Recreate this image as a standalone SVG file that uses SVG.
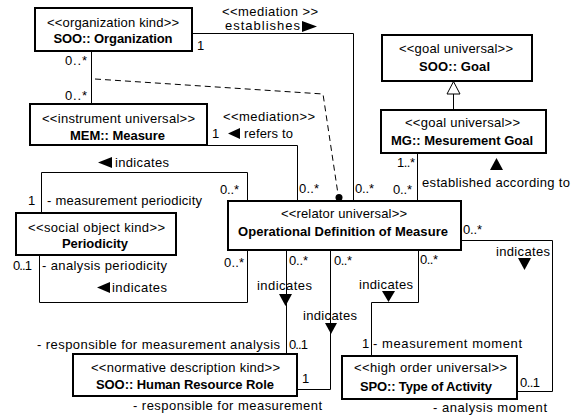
<svg xmlns="http://www.w3.org/2000/svg" width="577" height="416" viewBox="0 0 577 416">
<style>
text{font-family:"Liberation Sans",Arial,sans-serif;font-size:13px;fill:#000}
.st{text-anchor:middle}
.nm{text-anchor:middle;font-weight:bold}
.box{fill:#fff;stroke:#000;stroke-width:2}
.ln{fill:none;stroke:#000;stroke-width:1}
.dash{fill:none;stroke:#000;stroke-width:1;stroke-dasharray:6,4}
.tri{fill:#000;stroke:none}
</style>
<rect width="577" height="416" fill="#fff"/>
<g id="connectors">
<path class="ln" d="M193,33.5 H353.5 V201"/>
<path class="ln" d="M91.5,51 V104"/>
<path class="ln" d="M207,145.5 H297.5 V201"/>
<path class="ln" d="M41.5,213 V172.5 H247.5 V201"/>
<path class="ln" d="M39.5,255 V302.5 H247.5 V250"/>
<path class="ln" d="M286.5,250 V354"/>
<path class="ln" d="M330.5,250 V389.5 H297"/>
<path class="ln" d="M418.5,250 V302.5 H371.5 V356"/>
<path class="ln" d="M461,240.5 H552.5 V391.5 H517"/>
<path class="ln" d="M417.5,153 V201"/>
<path class="ln" d="M453.5,110 V94"/>
<polygon points="447,94 460,94 453.5,81.5" fill="#fff" stroke="#000" stroke-width="1"/>
<path class="dash" d="M95,79 L323,94 L338,194"/>
<circle cx="339" cy="197.5" r="3.5" fill="#000"/>
<polygon class="tri" points="302,21 317,26.5 302,32"/>
<polygon class="tri" points="240,128 228,133.5 240,139"/>
<polygon class="tri" points="112,157 98,162.5 112,168"/>
<polygon class="tri" points="110,282 97,287.5 110,293"/>
<polygon class="tri" points="490,170 496.5,158 503,170"/>
<polygon class="tri" points="279,294 292,294 285.5,306"/>
<polygon class="tri" points="325,323 337,323 331,334"/>
<polygon class="tri" points="382,291 395,291 388.5,302"/>
<polygon class="tri" points="518,258 531,258 524.5,270"/>
<text x="222" y="16" textLength="96" lengthAdjust="spacing">&lt;&lt;mediation &gt;&gt;</text>
<text x="225" y="30" textLength="75" lengthAdjust="spacing">establishes</text>
<text x="197" y="50">1</text>
<text x="65" y="65" textLength="22" lengthAdjust="spacing">0..*</text>
<text x="65" y="100" textLength="22" lengthAdjust="spacing">0..*</text>
<text x="223" y="121" textLength="92" lengthAdjust="spacing">&lt;&lt;mediation&gt;&gt;</text>
<text x="212" y="138">1</text>
<text x="244" y="138" textLength="49" lengthAdjust="spacing">refers to</text>
<text x="299" y="193" textLength="20" lengthAdjust="spacing">0..*</text>
<text x="355" y="193" textLength="19" lengthAdjust="spacing">0..*</text>
<text x="393" y="194" textLength="19" lengthAdjust="spacing">0..*</text>
<text x="397" y="167" textLength="18" lengthAdjust="spacing">1..*</text>
<text x="422" y="187" textLength="148" lengthAdjust="spacing">established according to</text>
<text x="115" y="167" textLength="54" lengthAdjust="spacing">indicates</text>
<text x="220" y="194" textLength="19" lengthAdjust="spacing">0..*</text>
<text x="28" y="205">1</text>
<text x="47" y="205" textLength="155" lengthAdjust="spacing">- measurement periodicity</text>
<text x="13" y="270" textLength="19" lengthAdjust="spacing">0..1</text>
<text x="42" y="270" textLength="125" lengthAdjust="spacing">- analysis periodicity</text>
<text x="112" y="292" textLength="55" lengthAdjust="spacing">indicates</text>
<text x="224" y="267" textLength="20" lengthAdjust="spacing">0..*</text>
<text x="289" y="265" textLength="19" lengthAdjust="spacing">0..*</text>
<text x="257" y="290" textLength="55" lengthAdjust="spacing">indicates</text>
<text x="289" y="349" textLength="19" lengthAdjust="spacing">0..1</text>
<text x="37" y="349" textLength="243" lengthAdjust="spacing">- responsible for measurement analysis</text>
<text x="334" y="265" textLength="18" lengthAdjust="spacing">0..*</text>
<text x="303" y="320" textLength="54" lengthAdjust="spacing">indicates</text>
<text x="302" y="383">1</text>
<text x="133" y="410" textLength="189" lengthAdjust="spacing">- responsible for measurement</text>
<text x="420" y="264" textLength="18" lengthAdjust="spacing">0..*</text>
<text x="359" y="289" textLength="54" lengthAdjust="spacing">indicates</text>
<text x="362" y="348">1</text>
<text x="373" y="348" textLength="149" lengthAdjust="spacing">- measurement moment</text>
<text x="463" y="234" textLength="19" lengthAdjust="spacing">0..*</text>
<text x="496" y="256" textLength="54" lengthAdjust="spacing">indicates</text>
<text x="520" y="387" textLength="20" lengthAdjust="spacing">0..1</text>
<text x="433" y="412" textLength="114" lengthAdjust="spacing">- analysis moment</text>
</g>
<g id="organization">
<rect class="box" x="35" y="8" width="157" height="43"/>
<text class="st" x="113" y="27" textLength="132" lengthAdjust="spacing">&lt;&lt;organization kind&gt;&gt;</text>
<text class="nm" x="113" y="43" textLength="119" lengthAdjust="spacing">SOO:: Organization</text>
</g>
<g id="measure">
<rect class="box" x="30" y="104" width="177" height="41"/>
<text class="st" x="118.5" y="123" textLength="153" lengthAdjust="spacing">&lt;&lt;instrument universal&gt;&gt;</text>
<text class="nm" x="117.5" y="140" textLength="95" lengthAdjust="spacing">MEM:: Measure</text>
</g>
<g id="periodicity">
<rect class="box" x="16" y="213" width="160" height="42"/>
<text class="st" x="96.5" y="232" textLength="137" lengthAdjust="spacing">&lt;&lt;social object kind&gt;&gt;</text>
<text class="nm" x="95" y="248" textLength="66" lengthAdjust="spacing">Periodicity</text>
</g>
<g id="odm">
<rect class="box" x="228" y="201" width="233" height="49"/>
<text class="st" x="344" y="218" textLength="126" lengthAdjust="spacing">&lt;&lt;relator universal&gt;&gt;</text>
<text class="nm" x="343" y="236" textLength="210" lengthAdjust="spacing">Operational Definition of Measure</text>
</g>
<g id="hrr">
<rect class="box" x="73" y="354" width="224" height="42"/>
<text class="st" x="185.5" y="372" textLength="189" lengthAdjust="spacing">&lt;&lt;normative description kind&gt;&gt;</text>
<text class="nm" x="185" y="389" textLength="178" lengthAdjust="spacing">SOO:: Human Resource Role</text>
</g>
<g id="spo">
<rect class="box" x="342" y="356" width="175" height="43"/>
<text class="st" x="430.5" y="372" textLength="153" lengthAdjust="spacing">&lt;&lt;high order universal&gt;&gt;</text>
<text class="nm" x="426" y="391" textLength="132" lengthAdjust="spacing">SPO:: Type of Activity</text>
</g>
<g id="goal">
<rect class="box" x="382" y="35" width="150" height="46"/>
<text class="st" x="456" y="53" textLength="114" lengthAdjust="spacing">&lt;&lt;goal universal&gt;&gt;</text>
<text class="nm" x="454.5" y="71" textLength="71" lengthAdjust="spacing">SOO:: Goal</text>
</g>
<g id="mg">
<rect class="box" x="381" y="110" width="165" height="43"/>
<text class="st" x="462.5" y="127" textLength="115" lengthAdjust="spacing">&lt;&lt;goal universal&gt;&gt;</text>
<text class="nm" x="462" y="145" textLength="142" lengthAdjust="spacing">MG:: Mesurement Goal</text>
</g>
</svg>
